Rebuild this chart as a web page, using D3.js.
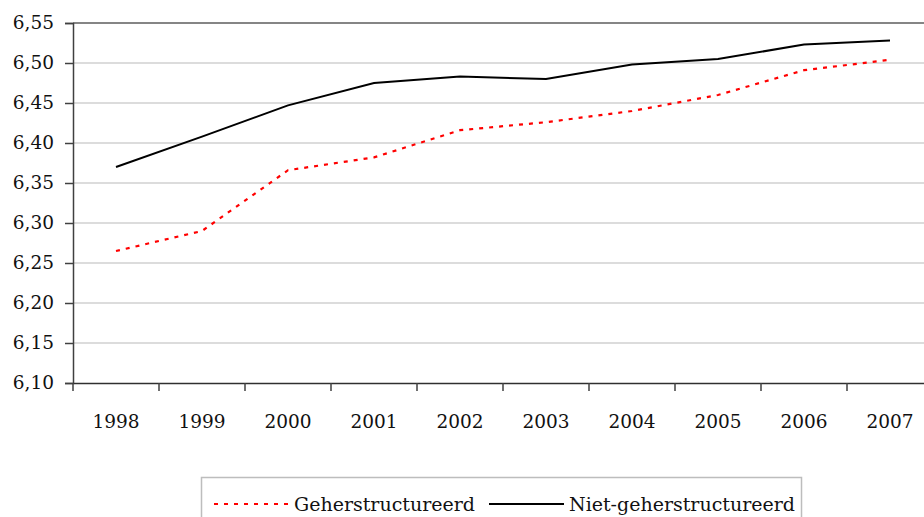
<!DOCTYPE html>
<html>
<head>
<meta charset="utf-8">
<script src="https://cdn.jsdelivr.net/npm/d3@7"></script>
<style>
  html, body { margin: 0; padding: 0; background: #fff; }
  svg { display: block; font-family: "DejaVu Serif", serif; }
</style>
</head>
<body>
<div id="chart"></div>
<script>
(function () {
  "use strict";

  // ── Data ──────────────────────────────────────────
  const years = ["1998", "1999", "2000", "2001", "2002", "2003", "2004", "2005", "2006", "2007"];
  const geherstructureerd = [6.265, 6.290, 6.366, 6.382, 6.416, 6.426, 6.440, 6.460, 6.491, 6.504];
  const nietGeherstructureerd = [6.370, 6.408, 6.447, 6.475, 6.483, 6.480, 6.498, 6.505, 6.523, 6.528];
  const yTicks = [6.10, 6.15, 6.20, 6.25, 6.30, 6.35, 6.40, 6.45, 6.50, 6.55];

  const series = [
    { name: "Geherstructureerd", values: geherstructureerd, color: "#ff0000", dash: "4,6", width: 2.2 },
    { name: "Niet-geherstructureerd", values: nietGeherstructureerd, color: "#000000", dash: null, width: 2 }
  ];

  // ── Layout ────────────────────────────────────────
  const width = 924, height = 517;
  const plot = { left: 73, right: 933, top: 23, bottom: 383 };

  const nlFormat = d3.formatLocale({ decimal: ",", thousands: ".", grouping: [3], currency: ["", " €"] }).format(".2f");

  const svg = d3.select("#chart").append("svg")
    .attr("width", width)
    .attr("height", height);

  // Scales
  const xBand = d3.scaleBand().domain(years).range([plot.left, plot.right]);
  const x = d => xBand(d) + xBand.bandwidth() / 2;
  const y = d3.scaleLinear().domain([6.10, 6.55]).range([plot.bottom, plot.top]);

  // Gridlines
  svg.append("g")
    .selectAll("line")
    .data(yTicks.slice(1, -1))
    .join("line")
    .attr("x1", plot.left).attr("x2", plot.right)
    .attr("y1", d => y(d)).attr("y2", d => y(d))
    .attr("stroke", "#d0d0d0")
    .attr("stroke-width", 1.5);

  // Plot border (top)
  svg.append("line")
    .attr("x1", plot.left).attr("x2", plot.right)
    .attr("y1", y(6.55)).attr("y2", y(6.55))
    .attr("stroke", "#858585")
    .attr("stroke-width", 2);

  // Y axis
  const yAxis = svg.append("g")
    .attr("transform", `translate(${plot.left},0)`)
    .call(d3.axisLeft(y).tickValues(yTicks).tickFormat(nlFormat).tickSize(8).tickPadding(11));
  yAxis.select(".domain").attr("stroke", "#404040").attr("stroke-width", 1.5);
  yAxis.selectAll(".tick line").attr("stroke", "#404040").attr("stroke-width", 1.5);
  yAxis.selectAll(".tick text")
    .attr("font-family", "DejaVu Serif, serif")
    .attr("font-size", 18.5)
    .attr("fill", "#111");

  // X axis (ticks between categories)
  const xAxis = svg.append("g")
    .attr("transform", `translate(0,${plot.bottom})`)
    .call(d3.axisBottom(xBand).tickSize(0).tickPadding(32));
  xAxis.select(".domain").attr("stroke", "#303030").attr("stroke-width", 1.5);
  xAxis.selectAll(".tick text")
    .attr("font-family", "DejaVu Serif, serif")
    .attr("font-size", 18.5)
    .attr("fill", "#111");

  svg.append("g")
    .selectAll("line")
    .data(years.map(d => xBand(d)).concat([plot.right]))
    .join("line")
    .attr("x1", d => d).attr("x2", d => d)
    .attr("y1", plot.bottom).attr("y2", plot.bottom + 8)
    .attr("stroke", "#404040")
    .attr("stroke-width", 1.5);

  // Lines
  const line = d3.line()
    .x((d, i) => x(years[i]))
    .y(d => y(d));

  svg.append("g")
    .selectAll("path")
    .data(series)
    .join("path")
    .attr("d", d => line(d.values))
    .attr("fill", "none")
    .attr("stroke", d => d.color)
    .attr("stroke-width", d => d.width)
    .attr("stroke-dasharray", d => d.dash);

  // ── Legend ────────────────────────────────────────
  const legend = svg.append("g");
  legend.append("rect")
    .attr("x", 201.5).attr("y", 477.5)
    .attr("width", 600).attr("height", 60)
    .attr("fill", "#fff")
    .attr("stroke", "#bdbdbd")
    .attr("stroke-width", 1.5);

  const legendItems = [
    { s: series[0], x1: 214, x2: 288, tx: 294 },
    { s: series[1], x1: 489, x2: 564, tx: 569 }
  ];
  legendItems.forEach(item => {
    legend.append("line")
      .attr("x1", item.x1).attr("x2", item.x2)
      .attr("y1", 504).attr("y2", 504)
      .attr("stroke", item.s.color)
      .attr("stroke-width", item.s.width)
      .attr("stroke-dasharray", item.s.dash);
    legend.append("text")
      .attr("x", item.tx).attr("y", 511)
      .attr("font-size", 19)
      .attr("fill", "#111")
      .text(item.s.name);
  });
})();
</script>
</body>
</html>
